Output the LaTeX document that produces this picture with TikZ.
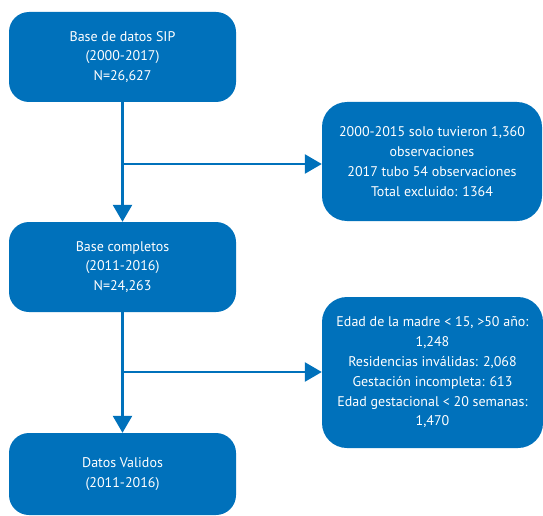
\documentclass[tikz,border=0pt]{standalone}
\usepackage{fontspec}
\setmainfont{PT Sans}
\usetikzlibrary{arrows.meta}
\definecolor{sipblue}{RGB}{0,113,187}

\begin{document}
\begin{tikzpicture}[x=1pt, y=-1pt, >={Triangle[length=17pt, width=19pt]},
    box/.style={rectangle, rounded corners=20pt, fill=sipblue, text=white, align=center,
        font=\fontsize{14}{19.8}\selectfont, inner sep=0pt},
    link/.style={draw=sipblue, line width=2.6pt, ->}]
        \useasboundingbox (0,0) rectangle (543,516);

        \node[box, minimum width=227pt, minimum height=90pt] (b1) at (122.5,57) {Base de datos SIP\\(2000-2017)\\N=26,627};
        \node[box, minimum width=227pt, minimum height=90pt] (b2) at (122.5,267) {Base completos\\(2011-2016)\\N=24,263};
        \node[box, minimum width=227pt, minimum height=82pt] (b3) at (122.5,474) {Datos Validos\\(2011-2016)};

        \node[box, rounded corners=25pt, minimum width=220pt, minimum height=119pt] (e1) at (432,161.5) {2000-2015 solo tuvieron 1,360\\observaciones\\2017 tubo 54 observaciones\\Total excluido: 1364};
        \node[box, rounded corners=25pt, minimum width=221pt, minimum height=151pt] (e2) at (432.5,372.5) {Edad de la madre < 15, >50 año:\\1,248\\Residencias inválidas: 2,068\\Gestación incompleta: 613\\Edad gestacional < 20 semanas:\\1,470};

        \coordinate (k1) at (122.5,164);
        \coordinate (k2) at (122.5,372);

        \draw[link] (b1) -- (b2);
        \draw[link] (b2) -- (b3);

        \draw[link] (k1) -- (k1 -| e1.west);
        \draw[link] (k2) -- (k2 -| e2.west);

    \end{tikzpicture}
\end{document}
